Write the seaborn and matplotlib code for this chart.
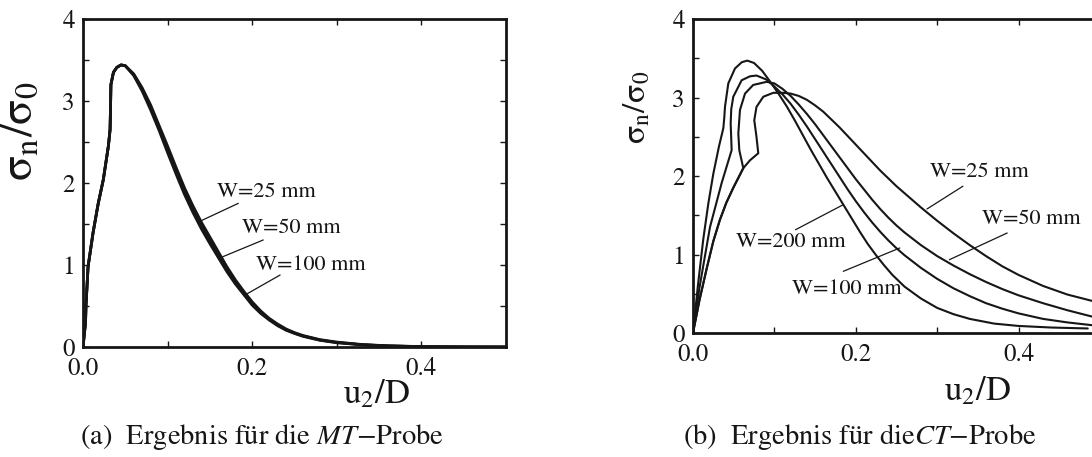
import matplotlib
matplotlib.use("Agg")
import matplotlib.pyplot as plt
import seaborn as sns

# (a) MT specimen: three nearly identical curves
x_mt = [0, 0.0015, 0.003, 0.0035, 0.006, 0.012, 0.018, 0.024, 0.030, 0.032,
        0.0325, 0.033, 0.036, 0.040, 0.045, 0.050, 0.060, 0.070, 0.080, 0.090,
        0.100, 0.110, 0.120, 0.130, 0.140, 0.150, 0.160, 0.170, 0.180, 0.190,
        0.200, 0.210, 0.220, 0.230, 0.240, 0.250, 0.260, 0.280, 0.300, 0.330,
        0.360, 0.400, 0.450, 0.500]
mt_w25 = [0, 0.15, 0.30, 0.50, 0.98, 1.40, 1.75, 2.04, 2.45, 2.65,
          2.90, 3.20, 3.35, 3.41, 3.44, 3.43, 3.33, 3.16, 2.95, 2.70,
          2.45, 2.19, 1.94, 1.72, 1.52, 1.34, 1.16, 0.98, 0.82, 0.68,
          0.55, 0.44, 0.35, 0.28, 0.22, 0.175, 0.14, 0.09, 0.06, 0.03,
          0.015, 0.005, 0.001, 0.0]
mt_w50 = [0, 0.15, 0.30, 0.50, 0.98, 1.40, 1.75, 2.04, 2.45, 2.65,
          2.90, 3.20, 3.35, 3.41, 3.44, 3.43, 3.32, 3.14, 2.92, 2.67,
          2.41, 2.15, 1.90, 1.68, 1.48, 1.30, 1.12, 0.95, 0.79, 0.66,
          0.53, 0.42, 0.34, 0.27, 0.21, 0.17, 0.135, 0.085, 0.055, 0.028,
          0.013, 0.004, 0.001, 0.0]
mt_w100 = [0, 0.15, 0.30, 0.50, 0.98, 1.40, 1.75, 2.04, 2.45, 2.65,
           2.90, 3.20, 3.35, 3.41, 3.44, 3.43, 3.31, 3.12, 2.89, 2.64,
           2.37, 2.11, 1.86, 1.64, 1.44, 1.26, 1.09, 0.92, 0.77, 0.64,
           0.51, 0.41, 0.33, 0.26, 0.205, 0.165, 0.13, 0.082, 0.052, 0.026,
           0.012, 0.004, 0.001, 0.0]

# (b) CT specimen: four widths
ct_x200 = [0, 0.006, 0.0127, 0.019, 0.025, 0.032, 0.0373, 0.0385, 0.0393, 0.0434,
           0.0516, 0.060, 0.0667, 0.075, 0.085, 0.095, 0.105, 0.115, 0.125, 0.135,
           0.145, 0.155, 0.165, 0.175, 0.185, 0.195, 0.205, 0.215, 0.225, 0.235,
           0.245, 0.26, 0.28, 0.30, 0.32, 0.34, 0.37, 0.40, 0.44, 0.485]
ct_y200 = [0, 0.60, 1.20, 1.66, 2.03, 2.38, 2.61, 2.75, 2.88, 3.18,
           3.37, 3.45, 3.47, 3.44, 3.34, 3.20, 3.05, 2.89, 2.71, 2.52,
           2.33, 2.15, 1.97, 1.80, 1.63, 1.46, 1.29, 1.13, 0.99, 0.86,
           0.74, 0.59, 0.44, 0.32, 0.24, 0.18, 0.12, 0.09, 0.07, 0.058]

ct_x100 = [0, 0.008, 0.0209, 0.0352, 0.0475, 0.0463, 0.0470, 0.0495, 0.0598, 0.070,
           0.078, 0.090, 0.100, 0.110, 0.120, 0.130, 0.140, 0.150, 0.160, 0.170,
           0.180, 0.190, 0.200, 0.210, 0.220, 0.230, 0.240, 0.250, 0.260, 0.280,
           0.300, 0.320, 0.340, 0.360, 0.380, 0.400, 0.430, 0.460, 0.490, 0.500]
ct_y100 = [0, 0.58, 1.35, 1.91, 2.33, 2.67, 2.85, 3.01, 3.22, 3.27,
           3.28, 3.23, 3.14, 3.04, 2.92, 2.78, 2.63, 2.47, 2.31, 2.15,
           1.99, 1.83, 1.68, 1.54, 1.41, 1.29, 1.18, 1.08, 0.99, 0.83,
           0.69, 0.57, 0.47, 0.38, 0.31, 0.25, 0.18, 0.135, 0.10, 0.09]

ct_x50 = [0, 0.008, 0.0168, 0.025, 0.033, 0.041, 0.0495, 0.0618, 0.0569, 0.0557,
          0.0577, 0.0639, 0.074, 0.0905, 0.100, 0.110, 0.120, 0.130, 0.140, 0.150,
          0.160, 0.170, 0.180, 0.190, 0.200, 0.210, 0.220, 0.230, 0.240, 0.250,
          0.260, 0.280, 0.300, 0.320, 0.340, 0.360, 0.380, 0.400, 0.430, 0.460,
          0.490, 0.500]
ct_y50 = [0, 0.42, 0.82, 1.17, 1.44, 1.66, 1.85, 2.10, 2.33, 2.54,
          2.84, 3.05, 3.16, 3.20, 3.18, 3.11, 3.02, 2.91, 2.79, 2.66,
          2.52, 2.38, 2.24, 2.10, 1.96, 1.83, 1.70, 1.58, 1.47, 1.37,
          1.28, 1.12, 0.98, 0.86, 0.75, 0.65, 0.56, 0.48, 0.38, 0.29,
          0.21, 0.19]

ct_x25 = [0, 0.008, 0.0168, 0.025, 0.033, 0.041, 0.0495, 0.0618, 0.070, 0.0802,
          0.078, 0.0753, 0.078, 0.0864, 0.0987, 0.110, 0.120, 0.130, 0.140, 0.150,
          0.160, 0.170, 0.180, 0.190, 0.200, 0.210, 0.220, 0.230, 0.240, 0.250,
          0.260, 0.280, 0.300, 0.320, 0.340, 0.360, 0.380, 0.400, 0.430, 0.460,
          0.490, 0.500]
ct_y25 = [0, 0.42, 0.82, 1.17, 1.44, 1.66, 1.85, 2.10, 2.20, 2.29,
          2.50, 2.71, 2.88, 3.01, 3.06, 3.06, 3.05, 3.02, 2.97, 2.90,
          2.82, 2.72, 2.62, 2.51, 2.40, 2.29, 2.18, 2.07, 1.97, 1.87,
          1.78, 1.60, 1.43, 1.27, 1.12, 0.98, 0.85, 0.74, 0.60, 0.49,
          0.41, 0.39]

x_ticks = [0.0, 0.2, 0.4]
y_ticks = [0, 1, 2, 3, 4]

sns.set_style("ticks")
plt.rcParams['font.family'] = ['STIXGeneral', 'Liberation Serif', 'DejaVu Serif']
plt.rcParams['mathtext.fontset'] = 'stix'

INK = '#161616'

fig = plt.figure(figsize=(10.92, 4.57), dpi=100)
ax1 = fig.add_axes([0.076, 0.2407, 0.3874, 0.7177])
ax2 = fig.add_axes([0.6346, 0.2713, 0.3727, 0.6871])


def style_axes(ax):
    ax.set_xlim(0, 0.5)
    ax.set_ylim(0, 4)
    ax.set_xticks(x_ticks)
    ax.set_xticklabels([f"{t:.1f}" for t in x_ticks])
    ax.set_xticks([0.1, 0.3], minor=True)
    ax.set_yticks(y_ticks)
    ax.set_yticklabels([str(t) for t in y_ticks])
    ax.set_yticks([0.5, 1.5, 2.5, 3.5], minor=True)
    ax.tick_params(which='both', direction='in', top=True, right=True,
                   length=4.5, width=1.0, color=INK)
    ax.tick_params(axis='x', which='major', labelsize=18, pad=7, labelcolor=INK)
    ax.tick_params(axis='y', which='major', labelsize=18, pad=6, labelcolor=INK)
    for sp in ax.spines.values():
        sp.set_linewidth(2.0)
        sp.set_color(INK)
        sp.set_visible(True)


def leader(ax, text, xy, xytext, text_pos):
    ax.plot([xy[0], xytext[0]], [xy[1], xytext[1]], color=INK, lw=0.9)
    ax.text(text_pos[0], text_pos[1], text, fontsize=16, color=INK,
            ha='left', va='center')


YLAB = r'$\mathrm{σ_n/σ_0}$'
XLAB = r'$\mathrm{u_2/D}$'

# panel (a)
for ys in (mt_w25, mt_w50, mt_w100):
    sns.lineplot(x=x_mt, y=ys, ax=ax1, color=INK, lw=2.0, sort=False, estimator=None)
style_axes(ax1)
ax1.set_xlabel(XLAB, fontsize=25, color=INK)
ax1.set_ylabel(YLAB, fontsize=33, color=INK)
ax1.xaxis.set_label_coords(0.695, -0.095)
ax1.yaxis.set_label_coords(-0.097, 0.659)
leader(ax1, 'W=25 mm', (0.139, 1.537), (0.1836, 1.752), (0.158, 1.894))
leader(ax1, 'W=50 mm', (0.165, 1.10), (0.213, 1.305), (0.1876, 1.447))
leader(ax1, 'W=100 mm', (0.1935, 0.646), (0.233, 0.878), (0.205, 1.0))

# panel (b)
for xs, ys in ((ct_x200, ct_y200), (ct_x100, ct_y100), (ct_x50, ct_y50), (ct_x25, ct_y25)):
    sns.lineplot(x=xs, y=ys, ax=ax2, color=INK, lw=1.5, sort=False, estimator=None)
style_axes(ax2)
ax2.set_xlabel(XLAB, fontsize=25, color=INK)
ax2.set_ylabel(YLAB, fontsize=24, color=INK)
ax2.xaxis.set_label_coords(0.698, -0.134)
ax2.yaxis.set_label_coords(-0.10, 0.72)
leader(ax2, 'W=25 mm', (0.2875, 1.58), (0.3316, 1.87), (0.2917, 2.05))
leader(ax2, 'W=50 mm', (0.315, 0.934), (0.386, 1.274), (0.3547, 1.457))
leader(ax2, 'W=200 mm', (0.1847, 1.635), (0.126, 1.316), (0.0525, 1.155))
leader(ax2, 'W=100 mm', (0.254, 1.083), (0.1847, 0.786), (0.1217, 0.565))

fig.text(262 / 1092, 1 - 437 / 457, '(a)  Ergebnis für die $\\mathit{MT}$\u2212Probe',
         fontsize=20.5, ha='center', va='center', color=INK)
fig.text(860 / 1092, 1 - 437 / 457, '(b)  Ergebnis für die$\\mathit{CT}$\u2212Probe',
         fontsize=20.5, ha='center', va='center', color=INK)

fig.savefig('out.png', dpi=100, facecolor='white')
